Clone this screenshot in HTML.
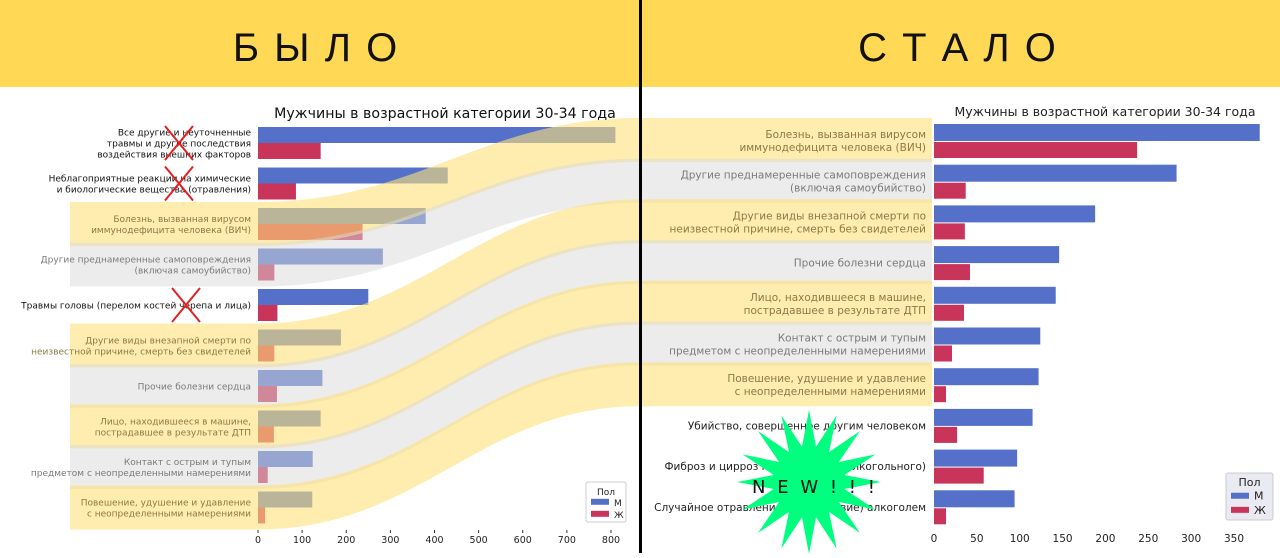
<!DOCTYPE html>
<html><head><meta charset="utf-8">
<style>
html,body{margin:0;padding:0;background:#fff;}
body{width:1280px;height:553px;overflow:hidden;font-family:"Liberation Sans","DejaVu Sans",sans-serif;}
svg text{font-family:"DejaVu Sans","Liberation Sans",sans-serif;}
</style></head>
<body>
<svg id="c" width="1280" height="553" viewBox="0 0 1280 553" xmlns="http://www.w3.org/2000/svg">
<rect x="0" y="0" width="1280" height="87" fill="#FFD955"/>
<text x="316" y="61" font-size="40" text-anchor="middle" fill="#111" style="font-family:'Liberation Sans',sans-serif;letter-spacing:2px">Б Ы Л О</text>
<text x="958" y="61" font-size="40" text-anchor="middle" fill="#111" style="font-family:'Liberation Sans',sans-serif;letter-spacing:2px">С Т А Л О</text>
<g id="leftBars"></g>
<g id="rightBars"></g>
<g id="bands"></g>
<g id="labels"></g>
<rect x="639" y="0" width="3" height="553" fill="#000"/>
</svg>
<script>
const leftCats=[["Все другие и неуточненные","травмы и другие последствия","воздействия внешних факторов"],["Неблагоприятные реакции на химические","и биологические вещества (отравления)"],["Болезнь, вызванная вирусом","иммунодефицита человека (ВИЧ)"],["Другие преднамеренные самоповреждения","(включая самоубийство)"],["Травмы головы (перелом костей черепа и лица)"],["Другие виды внезапной смерти по","неизвестной причине, смерть без свидетелей"],["Прочие болезни сердца"],["Лицо, находившееся в машине,","пострадавшее в результате ДТП"],["Контакт с острым и тупым","предметом с неопределенными намерениями"],["Повешение, удушение и удавление","с неопределенными намерениями"]];
const leftMale=[810,430,380,283,250,188,146,142,124,123];
const leftFemale=[142,86,237,37,44,37,43,36,22,16];
const leftTicks=[0,100,200,300,400,500,600,700,800];
const rightCats=[["Болезнь, вызванная вирусом","иммунодефицита человека (ВИЧ)"],["Другие преднамеренные самоповреждения","(включая самоубийство)"],["Другие виды внезапной смерти по","неизвестной причине, смерть без свидетелей"],["Прочие болезни сердца"],["Лицо, находившееся в машине,","пострадавшее в результате ДТП"],["Контакт с острым и тупым","предметом с неопределенными намерениями"],["Повешение, удушение и удавление","с неопределенными намерениями"],["Убийство, совершенное другим человеком"],["Фиброз и цирроз печени (кроме алкогольного)"],["Случайное отравление (воздействие) алкоголем"]];
const rightMale=[380,283,188,146,142,124,122,115,97,94];
const rightFemale=[237,37,36,42,35,21,14,27,58,14];
const rightTicks=[0,50,100,150,200,250,300,350];
const linkLeft=[2,3,5,6,7,8,9];
const linkRight=[0,1,2,3,4,5,6];
const linkType=["y","g","y","g","y","g","y"];
const leftCrossed=[0,1,4];

const NS="http://www.w3.org/2000/svg";
function mk(tag,attrs,parent,txt){const e=document.createElementNS(NS,tag);for(const k in attrs)e.setAttribute(k,attrs[k]);if(txt!==undefined)e.textContent=txt;parent.appendChild(e);return e;}
const BLUE="#5470c8",RED="#c9345a";
const lx=v=>258+v*(611-258)/800;
const ly=i=>127+i*40.5;
const rx=v=>934+v*(1234-934)/350;
const ry=i=>124+i*40.7;
const svg=document.getElementById('c');
const LB=document.getElementById('leftBars'),RB=document.getElementById('rightBars'),BD=document.getElementById('bands'),LL=document.getElementById('labels');

let t=mk('text',{x:445,y:118,'font-size':14.2,'text-anchor':'middle',fill:'#111'},svg,"Мужчины в возрастной категории 30-34 года");


t=mk('text',{x:1105,y:116,'font-size':12.5,'text-anchor':'middle',fill:'#222'},svg,"Мужчины в возрастной категории 30-34 года");



leftMale.forEach((v,i)=>{
 let r=mk('rect',{x:lx(0),y:ly(i),width:lx(v)-lx(0),height:16,fill:BLUE},LB);
 
 
 r=mk('rect',{x:lx(0),y:ly(i)+16,width:lx(leftFemale[i])-lx(0),height:16,fill:RED},LB);
 
 
});
rightMale.forEach((v,i)=>{
 let r=mk('rect',{x:rx(0),y:ry(i),width:rx(v)-rx(0),height:17,fill:BLUE},RB);
 
 
 r=mk('rect',{x:rx(0),y:ry(i)+18,width:rx(rightFemale[i])-rx(0),height:16,fill:RED},RB);
 
 
});

linkLeft.forEach((li,k)=>{
 const ri=linkRight[k];
 const y0=ly(li)-6,y1=ly(li)+38,z0=ry(ri)-6,z1=ry(ri)+38;
 const d=`M70 ${y0} L258 ${y0} C420 ${y0} 480 ${z0} 640 ${z0} L932 ${z0} L932 ${z1} L640 ${z1} C480 ${z1} 420 ${y1} 258 ${y1} L70 ${y1} Z`;
 const p=mk('path',{d:d,fill:linkType[k]==='y'?'#FFE17A':'#DADADA',opacity:linkType[k]==='y'?0.6:0.5},BD);
 
 
});

leftCats.forEach((lines,i)=>{
 const hl=linkLeft.indexOf(i);
 const col=hl<0?'#111':(linkType[hl]==='y'?'#8a7a45':'#7a7a7a');
 const cy=ly(i)+16, n=lines.length;
 lines.forEach((s,j)=>{
  const e=mk('text',{x:251,y:cy+(j-(n-1)/2)*11+3.5,'font-size':9,'text-anchor':'end',fill:col},LL,s);
  
  
 });
});
leftCrossed.forEach(i=>{
 const cx=i===4?186:179,cy=ly(i)+16;
 const g=mk('path',{d:`M${cx-14} ${cy-17} L${cx+14} ${cy+17} M${cx+14} ${cy-17} L${cx-14} ${cy+17}`,stroke:'#e02020','stroke-width':2},LL);
 
 
});
rightCats.forEach((lines,i)=>{
 const hl=linkRight.indexOf(i);
 const col=hl<0?'#222':(linkType[hl]==='y'?'#8a7a45':'#7a7a7a');
 const cy=ry(i)+17, n=lines.length;
 lines.forEach((s,j)=>{
  const e=mk('text',{x:926,y:cy+(j-(n-1)/2)*13+3.5,'font-size':10.5,'text-anchor':'end',fill:col},LL,s);
  
  
 });
});
leftTicks.forEach(v=>{
 const e=mk('text',{x:lx(v),y:543,'font-size':9.5,'text-anchor':'middle',fill:'#222'},LL,v);
 
 
 mk('line',{x1:lx(v),x2:lx(v),y1:530,y2:533,stroke:'#333'},LL);
});
rightTicks.forEach(v=>{
 const e=mk('text',{x:rx(v),y:542,'font-size':10.5,'text-anchor':'middle',fill:'#222'},LL,v);
 
 
});

function legend(x,y,w,h,bg,fs,name){
 const g=mk('g',{},LL);
 
 
 mk('rect',{x:x,y:y,width:w,height:h,fill:bg,stroke:'#ccc',rx:2},g);
 mk('text',{x:x+w/2,y:y+13,'font-size':fs,'text-anchor':'middle',fill:'#222'},g,"Пол");
 mk('rect',{x:x+5,y:y+h*0.42,width:18,height:6,fill:BLUE},g);
 mk('text',{x:x+28,y:y+h*0.42+7,'font-size':fs,fill:'#222'},g,"М");
 mk('rect',{x:x+5,y:y+h*0.72,width:18,height:6,fill:RED},g);
 mk('text',{x:x+28,y:y+h*0.72+7,'font-size':fs,fill:'#222'},g,"Ж");
}
legend(586,482,40,40,'#fff',9,'left-legend');
legend(1226,473,47,47,'#eaeaf2',11,'right-legend');

const cx=809,cy=482,N=16;let pts=[];
for(let k=0;k<N*2;k++){const a=-Math.PI/2+k*Math.PI/N;const r=k%2?36:72;pts.push((cx+r*Math.cos(a)).toFixed(1)+','+(cy+r*Math.sin(a)).toFixed(1));}
const st=mk('polygon',{points:pts.join(' '),fill:'#00FF7F'},svg);


const nt=mk('text',{x:cx+6,y:cy+11,'font-size':18,'text-anchor':'middle',fill:'#111','letter-spacing':'3'},svg,"N E W ! ! !");


</script>
</body></html>
